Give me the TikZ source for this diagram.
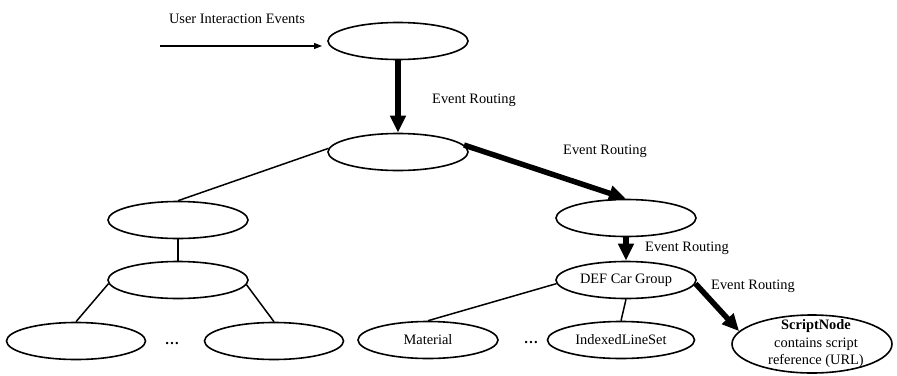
\documentclass[tikz,border=0pt]{standalone}
\usepackage{fontspec}
\setmainfont{Liberation Serif}
\usetikzlibrary{shapes.geometric,arrows.meta}
\begin{document}
\begin{tikzpicture}[x=1pt,y=-1pt,
  ell/.style={draw, line width=1.6pt, ellipse, minimum width=140pt, minimum height=37pt, inner sep=0pt, font=\fontsize{14.4}{17.5}\selectfont},
  lbl/.style={font=\fontsize{14.4}{17.5}\selectfont, inner sep=0pt},
  conn/.style={line width=1.5pt},
  route/.style={line width=5.5pt, -{Triangle[length=17pt,width=15pt]}},
  thinarrow/.style={line width=1.1pt, -{Triangle[length=8pt,width=6pt]}}
  ]
\useasboundingbox (0,0) rectangle (897,375);
% nodes
\node[ell] (T) at (398,41) {};
\node[ell] (E2) at (398,152) {};
\node[ell] (E3) at (626,218) {};
\node[ell] (DEF) at (626,280) {DEF Car Group};
\node[ell] (L1) at (178,220) {};
\node[ell] (L2) at (178,280) {};
\node[ell, minimum width=139pt] (LL) at (76,341) {};
\node[ell, minimum width=139pt] (LR) at (274,341) {};
\node[ell] (M) at (428,340) {Material};
\node[ell, minimum width=147pt] (ILS) at (621,340) {IndexedLineSet};
\node[ell, minimum width=160pt, minimum height=58pt,
  label={[lbl,align=center,xshift=4pt]center:\textbf{ScriptNode}\\contains script\\reference (URL)}] (S) at (812,344) {};
\node[lbl] (d1) at (172,344) {\textbf{\ldots}};
\node[lbl] (d2) at (531,343) {\textbf{\ldots}};
% labels
\node[lbl] (uiel) at (237,19) {User Interaction Events};
\node[lbl] (r1) at (474,100) {Event Routing};
\node[lbl] (r2) at (605,151) {Event Routing};
\node[lbl] (r3) at (687,248) {Event Routing};
\node[lbl] (r4) at (753,286) {Event Routing};
% connectors
\coordinate (uies) at (160,46);
\coordinate (uiee) at (322,46);
\draw[thinarrow] (uies) -- (uiee);
\draw[route] (T.south) -- (E2.north);
\draw[route] (E2.6) -- (E3.north);
\draw[route] (E3.south) -- (DEF.north);
\draw[route] (DEF.-3) -- (S.170);
\draw[conn] (E2.177) -- (L1.north);
\draw[conn] (L1.south) -- (L2.north);
\draw[conn] (L2.183) -- (LL.north);
\draw[conn] (L2.-4) -- (LR.north);
\draw[conn] (DEF.183) -- (M.north);
\draw[conn] (DEF.south) -- (ILS.north);
\end{tikzpicture}
\end{document}
